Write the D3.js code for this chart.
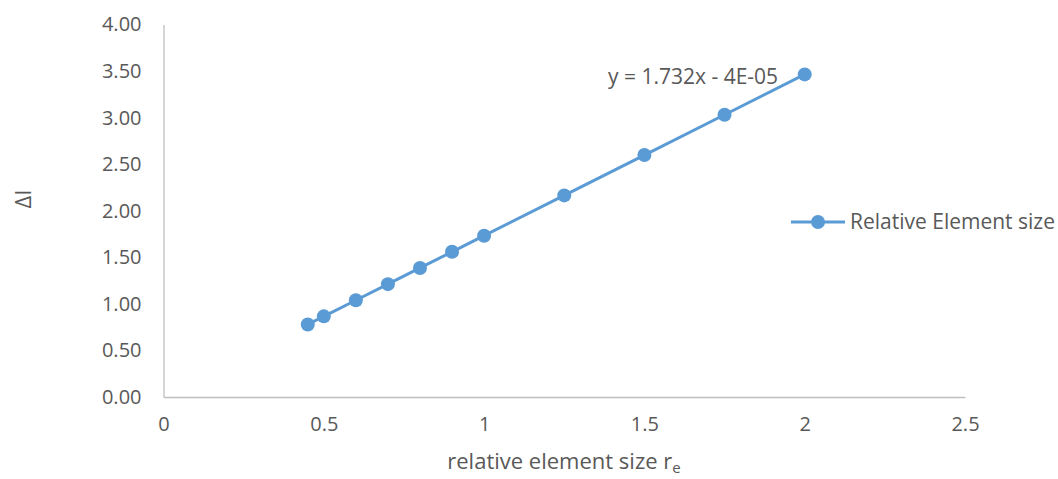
<!DOCTYPE html>
<html>
<head>
<meta charset="utf-8">
<script src="https://cdn.jsdelivr.net/npm/d3@7"></script>
<style>
  html, body { margin: 0; padding: 0; background: #fff; }
  svg { display: block; }
  text { font-family: "Open Sans", "Noto Sans", sans-serif; fill: #595959; }
</style>
</head>
<body>
<svg id="chart" width="1058" height="479"></svg>
<script>
// Relative element size vs. ΔI
const sizes  = [0.45, 0.5, 0.6, 0.7, 0.8, 0.9, 1.0, 1.25, 1.5, 1.75, 2.0];
const deltaI = [0.779, 0.866, 1.039, 1.212, 1.386, 1.559, 1.732, 2.165, 2.598, 3.031, 3.464];
const xTicks = [0, 0.5, 1, 1.5, 2, 2.5];
const yTicks = [0, 0.5, 1, 1.5, 2, 2.5, 3, 3.5, 4];
const seriesName = "Relative Element size";
const trendLabel = "y = 1.732x - 4E-05";

const blue = "#5B9BD5";
const svg = d3.select("#chart");

const x = d3.scaleLinear().domain([0, 2.5]).range([163.5, 965]);
const y = d3.scaleLinear().domain([0, 4]).range([397, 24.5]);

// axes
const xAxis = svg.append("g").attr("transform", `translate(0,${y(0)})`)
  .call(d3.axisBottom(x).tickValues(xTicks).tickSize(0).tickPadding(20).tickFormat(d3.format("")));
const yAxis = svg.append("g").attr("transform", `translate(${x(0)},0)`)
  .call(d3.axisLeft(y).tickValues(yTicks).tickSize(0).tickPadding(22).tickFormat(d3.format(".2f")));

[xAxis, yAxis].forEach(g => {
  g.select(".domain").attr("stroke", "#BFBFBF").attr("stroke-width", 1.3);
  g.selectAll("text").attr("font-size", 20).attr("fill", "#595959")
    .attr("font-family", '"Open Sans", "Noto Sans", sans-serif');
});

// axis titles
const xt = svg.append("text").attr("x", 564).attr("y", 469)
  .attr("text-anchor", "middle").attr("font-size", 22);
xt.append("tspan").text("relative element size r");
xt.append("tspan").attr("font-size", 15).attr("dy", 4).text("e");

svg.append("text")
  .attr("transform", `translate(31,199) rotate(-90)`)
  .attr("text-anchor", "middle").attr("font-size", 22).text("ΔI");

// series line and markers
const pts = sizes.map((s, i) => [s, deltaI[i]]);
svg.append("path").datum(pts)
  .attr("fill", "none").attr("stroke", blue).attr("stroke-width", 3)
  .attr("d", d3.line().x(d => x(d[0])).y(d => y(d[1])));

svg.append("g").selectAll("circle").data(pts).join("circle")
  .attr("cx", d => x(d[0])).attr("cy", d => y(d[1])).attr("r", 7)
  .attr("fill", blue);

// trendline equation
svg.append("text").attr("x", 608).attr("y", 84)
  .attr("font-size", 21).text(trendLabel);

// legend
const lg = svg.append("g").attr("transform", "translate(791,222)");
lg.append("line").attr("x1", 0).attr("x2", 54).attr("y1", 0).attr("y2", 0)
  .attr("stroke", blue).attr("stroke-width", 3);
lg.append("circle").attr("cx", 27).attr("cy", 0).attr("r", 7).attr("fill", blue);
lg.append("text").attr("x", 59).attr("y", 7).attr("font-size", 21).text(seriesName);
</script>
</body>
</html>
